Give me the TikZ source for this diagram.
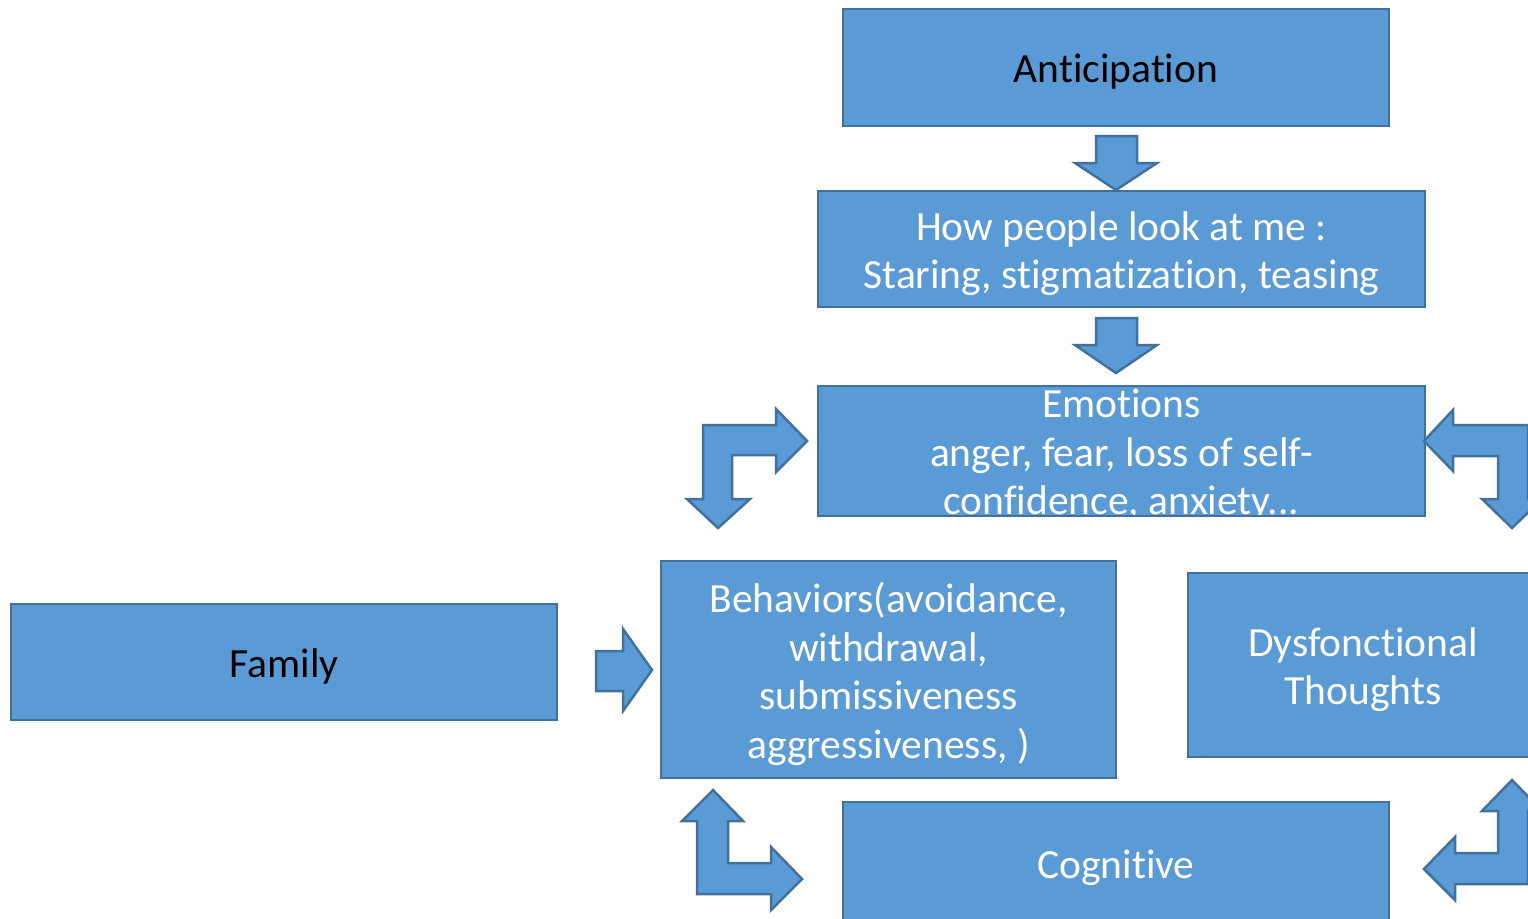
\documentclass[tikz,border=0pt]{standalone}
\usepackage{fontspec}
\setmainfont{Carlito}[Ligatures=NoCommon]
\definecolor{boxfill}{HTML}{5B9BD5}
\definecolor{boxline}{HTML}{41719C}
\begin{document}
\begin{tikzpicture}[x=1pt,y=-1pt,
  box/.style={draw=boxline, fill=boxfill, line width=2.5pt, rectangle,
    anchor=north west, outer sep=0pt, inner sep=0pt},
  boxtext/.style={align=center, inner sep=0pt, yshift=-4.5pt,
    font=\fontsize{41.5}{48.5}\selectfont, text=white},
  blockarrow/.style={draw=boxline, fill=boxfill, line width=2.5pt, line join=miter}]
\useasboundingbox (0,0) rectangle (1528,918);
\clip (0,0) rectangle (1528,918);

% boxes
\node[box, minimum width=546pt, minimum height=117pt] (anticipation) at (843,9) {};
\node[boxtext, text=black] (anticipation-text) at (anticipation.center) {Anticipation};

\node[box, minimum width=607pt, minimum height=116pt] (look) at (818,191) {};
\node[boxtext] (look-text) at (look.center)
  {How people look at me :\\Staring, stigmatization, teasing};

\node[box, minimum width=607pt, minimum height=130pt] (emotions) at (818,386) {};
\begin{scope}
  \clip (emotions.north west) rectangle (emotions.south east);
  \node[boxtext] (emotions-text) at (emotions.center)
    {Emotions\\anger, fear, loss of self-\\confidence, anxiety...};
\end{scope}
\draw[boxline, line width=2.5pt] (emotions.north west) rectangle (emotions.south east);

\node[box, minimum width=546pt, minimum height=116pt] (family) at (11,604) {};
\node[boxtext, text=black] (family-text) at (family.center) {Family};

\node[box, minimum width=455pt, minimum height=217pt] (behaviors) at (661,561) {};
\node[boxtext] (behaviors-text) at (behaviors.center)
  {Behaviors(avoidance,\\withdrawal,\\submissiveness\\aggressiveness, )};

\node[box, minimum width=350pt, minimum height=184pt] (thoughts) at (1188,573) {};
\node[boxtext] (thoughts-text) at (thoughts.center) {Dysfonctional\\Thoughts};

\node[box, minimum width=546pt, minimum height=122pt] (cognitive) at (843,802) {};
\node[boxtext] (cognitive-text) at (cognitive.center) {Cognitive};

% straight block arrows
\draw[blockarrow] (1096,136) -- (1137,136) -- (1137,163) -- (1157,163) -- (1116,190)
  -- (1075,163) -- (1096,163) -- cycle;
\draw[blockarrow] (1096,318) -- (1137,318) -- (1137,345) -- (1157,345) -- (1116,373)
  -- (1075,345) -- (1096,345) -- cycle;
\draw[blockarrow] (596,651) -- (623,651) -- (623,629) -- (652,670) -- (623,711)
  -- (623,691) -- (596,691) -- cycle;

% bent block arrows
\draw[blockarrow] (703,425) -- (776,425) -- (776,409) -- (807,441) -- (776,472)
  -- (776,455) -- (732,455) -- (732,499) -- (750,499) -- (718,528) -- (687,499)
  -- (703,499) -- cycle;
\draw[blockarrow] (1528,425) -- (1453,425) -- (1453,410) -- (1424,441) -- (1453,471)
  -- (1453,456) -- (1498,456) -- (1498,499) -- (1482,499) -- (1512,528) -- (1542,499)
  -- (1528,499) -- cycle;
\draw[blockarrow] (697,894) -- (697,821) -- (682,821) -- (713,790) -- (743,821)
  -- (728,821) -- (728,863) -- (771,863) -- (771,847) -- (802,879) -- (771,910)
  -- (771,894) -- cycle;
\draw[blockarrow] (1528,884) -- (1455,884) -- (1455,900) -- (1424,869) -- (1455,837)
  -- (1455,853) -- (1498,853) -- (1498,811) -- (1482,811) -- (1512,780) -- (1542,811)
  -- (1528,811) -- cycle;
\end{tikzpicture}
\end{document}
